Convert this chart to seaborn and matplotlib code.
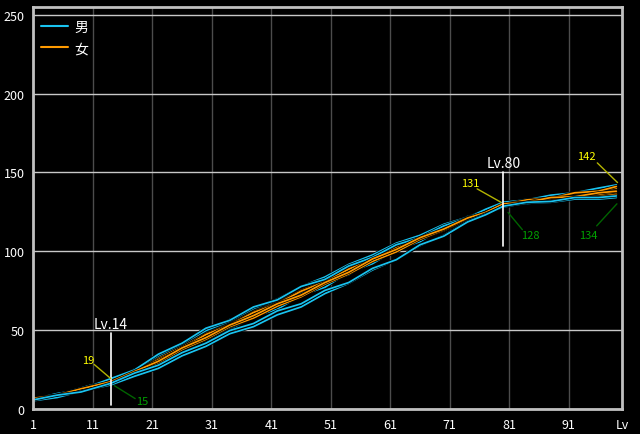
import matplotlib
matplotlib.use('Agg')
import matplotlib.pyplot as plt
import matplotlib.patheffects as pe
from matplotlib.lines import Line2D
import pandas as pd
import seaborn as sns

levels = [1, 5, 9, 14, 18, 22, 26, 30, 34, 38, 42, 46, 50, 54, 58, 62, 66, 70, 74, 77, 80, 84, 88, 92, 96, 99]

# 男 (cyan)
male_1 = [6, 9.5, 12, 19, 24.5, 34.5, 41.5, 51, 56, 64.5, 69, 77.5, 82, 90.5, 96, 104, 108.5, 116, 121, 126.5, 131, 132.5, 135.5, 137, 140, 142]
male_2 = [5, 7, 11, 15, 20.5, 25.5, 33.5, 39.5, 47.5, 52, 59.5, 64.5, 73, 79.5, 88, 94.5, 103.5, 110, 119, 123.5, 128, 130.5, 131, 133, 133, 134]
male_3 = [6.5, 9, 12.5, 17.5, 24.5, 31, 41, 48, 56.5, 61.5, 69.5, 74, 82.5, 87.5, 96, 101, 109, 114.5, 121.5, 125, 130, 131.5, 134.5, 135.5, 138.5, 140]
male_4 = [5.5, 8.5, 10.5, 16, 21, 29, 35.5, 44.5, 50, 58.5, 63, 72, 77, 86.5, 92, 101, 106, 115, 119.5, 125, 129, 130, 132.5, 133, 135.5, 136]
male_5 = [6, 8, 12.5, 18, 25, 31, 39.5, 46.5, 55.5, 60.5, 69, 73.5, 82, 87, 96.5, 101.5, 110, 114.5, 122, 125, 130, 133, 134, 137, 138, 140.5]
male_6 = [5.5, 8.5, 10.5, 16, 22.5, 27.5, 35.5, 41.5, 49.5, 54, 62, 66.5, 75, 80, 89, 94.5, 104, 109.5, 118.5, 123, 128.5, 131, 131.5, 134, 134, 135]
male_7 = [6, 9, 12.5, 17, 23, 31.5, 39, 48.5, 53, 61, 65.5, 75, 80.5, 90, 95, 103.5, 107.5, 115.5, 119.5, 125, 129, 131.5, 132.5, 135.5, 136.5, 138.5]
male_8 = [5, 8.5, 11, 17, 23, 29, 37.5, 44, 53, 58, 67, 71.5, 80, 85, 94.5, 100, 108.5, 113, 121, 124.5, 129.5, 131, 134, 135, 137.5, 139]
male_9 = [6.5, 9, 13, 18.5, 24.5, 33.5, 41, 49.5, 55.5, 63.5, 69.5, 77.5, 83.5, 91.5, 97.5, 105, 110, 117, 121.5, 126.5, 130.5, 132, 134.5, 135, 137.5, 138]
male_10 = [5.5, 8.5, 11, 16.5, 22.5, 28.5, 37, 43.5, 51.5, 57.5, 65.5, 71.5, 79.5, 86, 94, 100, 108, 113.5, 120.5, 124, 129, 131.5, 132, 134.5, 135, 137]

# 女 (orange)
female_1 = [6, 8.5, 12.5, 17.5, 23, 31.5, 38.5, 47, 53, 60.5, 66, 74, 80, 88.5, 94.5, 102.5, 108, 115.5, 120.5, 126, 130, 132.5, 133.5, 136.5, 137.5, 139.5]
female_2 = [5.5, 8.5, 10.5, 16.5, 23, 29.5, 38, 44.5, 52.5, 58, 65.5, 71.5, 79.5, 86, 94, 100, 107.5, 113, 120, 124, 129, 131.5, 132, 134.5, 135, 136.5]
female_3 = [6.5, 9, 12.5, 18, 23.5, 32, 39, 47.5, 53.5, 61.5, 67, 75, 81, 89.5, 95.5, 103.5, 109, 116.5, 121, 126.5, 130.5, 132, 135, 136, 138.5, 140]
female_4 = [6, 8, 12, 17, 23, 29, 38, 44.5, 53, 58.5, 66, 72, 80, 86.5, 94.5, 100.5, 108, 113.5, 120.5, 124, 129.5, 132, 132.5, 135, 135.5, 137.5]
female_5 = [5.5, 9, 11.5, 17.5, 23, 31, 38, 47, 53, 61, 66.5, 74.5, 80.5, 88.5, 94.5, 102, 107.5, 115, 120, 125.5, 129.5, 131.5, 132, 134.5, 134.5, 136]
female_6 = [6, 8.5, 12.5, 16.5, 22.5, 28.5, 37.5, 44, 52, 57.5, 65, 71, 79, 85.5, 93.5, 99.5, 107.5, 113.5, 120.5, 124.5, 129.5, 132.5, 133.5, 137, 138, 141]
female_7 = [6.5, 8.5, 12.5, 17, 23.5, 30, 38.5, 45, 53, 59, 66.5, 72, 80, 86.5, 95, 101, 108.5, 114, 121, 124.5, 130, 131, 134, 134.5, 137, 138]

male_series = [male_1, male_2, male_3, male_4, male_5, male_6, male_7, male_8, male_9, male_10]
female_series = [female_1, female_2, female_3, female_4, female_5, female_6, female_7]

x_ticks = [1, 11, 21, 31, 41, 51, 61, 71, 81, 91, 100]
x_labels = ['1', '11', '21', '31', '41', '51', '61', '71', '81', '91', 'Lv']
y_ticks = [0, 50, 100, 150, 200, 250]

MALE_COLOR = '#19c3f0'
FEMALE_COLOR = '#ff9a00'

rows = []
for i, s in enumerate(male_series):
    for lv, v in zip(levels, s):
        rows.append(('男', 'm%d' % i, lv, v))
for i, s in enumerate(female_series):
    for lv, v in zip(levels, s):
        rows.append(('女', 'f%d' % i, lv, v))
df = pd.DataFrame(rows, columns=['sex', 'id', 'lv', 'val'])

sns.set_style('dark')
plt.rcParams['font.family'] = ['Noto Sans CJK JP', 'DejaVu Sans']

fig = plt.figure(figsize=(6.4, 4.35), dpi=100, facecolor='black')
ax = fig.add_axes([0.0523, 0.0586, 0.920, 0.923])
ax.set_facecolor('black')

outline = [pe.Stroke(linewidth=2.3, foreground='black'), pe.Normal()]
# central men first, women in the middle of the band, outer men last
draw_order = ['m2', 'm3', 'm6', 'm9', 'm7', 'f0', 'm4', 'f1', 'f2', 'm8', 'f3',
              'f4', 'm0', 'f5', 'f6', 'm1', 'm5']
for uid in draw_order:
    sub = df[df['id'] == uid]
    col = MALE_COLOR if uid.startswith('m') else FEMALE_COLOR
    sns.lineplot(data=sub, x='lv', y='val', ax=ax, color=col, lw=1.25,
                 path_effects=outline, estimator=None, legend=False)

ax.set_xlim(1, 100)
ax.set_ylim(0, 255)
ax.set_xticks(x_ticks)
ax.set_xticklabels(x_labels)
ax.set_yticks(y_ticks)
ax.set_xlabel('')
ax.set_ylabel('')
ax.tick_params(colors='white', labelsize=9, length=0)
ax.tick_params(axis='y', pad=6.5)
ax.tick_params(axis='x', pad=7)
ax.yaxis.grid(True, color='#c8c8c8', lw=1)
ax.xaxis.grid(True, color='#4c4c4c', lw=1)
ax.set_axisbelow(True)
for sp in ax.spines.values():
    sp.set_visible(True)
    sp.set_color('#c0c0c0')
    sp.set_linewidth(2)

# level markers with max / min values
all_series = male_series + female_series
yel_txt, yel_line = '#ffff00', '#b4b400'
grn_txt, grn_line = '#00a000', '#006400'

def col_at(lv):
    i = levels.index(lv)
    return [s[i] for s in all_series]

for lv, y0, y1 in [(14, 2, 48), (80, 103, 150)]:
    ax.plot([lv, lv], [y0, y1], color='white', lw=1.2)
    ax.text(lv, y1 + 1.5, 'Lv.%d' % lv, ha='center', va='bottom', color='white', fontsize=10)

v14 = col_at(14)
ax.plot([11.2, 14], [28, max(v14)], color=yel_line, lw=1)
ax.text(10.2, 31, '%d' % round(max(v14)), color=yel_txt, fontsize=8, ha='center', va='center')
ax.plot([14.6, 18.1], [max(min(v14) - 0.5, 0), 6.3], color=grn_line, lw=1)
ax.text(19.3, 4.5, '%d' % round(min(v14)), color=grn_txt, fontsize=8, ha='center', va='center')

v80 = col_at(80)
ax.plot([75.6, 79.6], [139.5, max(v80)], color=yel_line, lw=1)
ax.text(74.4, 143, '%d' % round(max(v80)), color=yel_txt, fontsize=8, ha='center', va='center')
ax.plot([80.8, 83.2], [124.5, 113.6], color=grn_line, lw=1)
ax.text(84.5, 110, '%d' % round(min(v80)), color=grn_txt, fontsize=8, ha='center', va='center')

v99 = col_at(99)
ax.plot([95.8, 99.2], [156, max(v99) + 1.5], color=yel_line, lw=1)
ax.text(94, 160.5, '%d' % round(max(v99)), color=yel_txt, fontsize=8, ha='center', va='center')
ax.plot([95.7, 99.1], [116, min(v99) - 4], color=grn_line, lw=1)
ax.text(94.3, 110, '%d' % round(min(v99)), color=grn_txt, fontsize=8, ha='center', va='center')

handles = [Line2D([], [], color=MALE_COLOR, lw=1.5), Line2D([], [], color=FEMALE_COLOR, lw=1.5)]
ax.legend(handles, ['男', '女'], loc='upper left', bbox_to_anchor=(-0.009, 0.998), frameon=False,
          labelcolor='white', fontsize=10, handlelength=2.0, labelspacing=0.5, handletextpad=0.4)

fig.savefig('out.png', dpi=100, facecolor='black')
